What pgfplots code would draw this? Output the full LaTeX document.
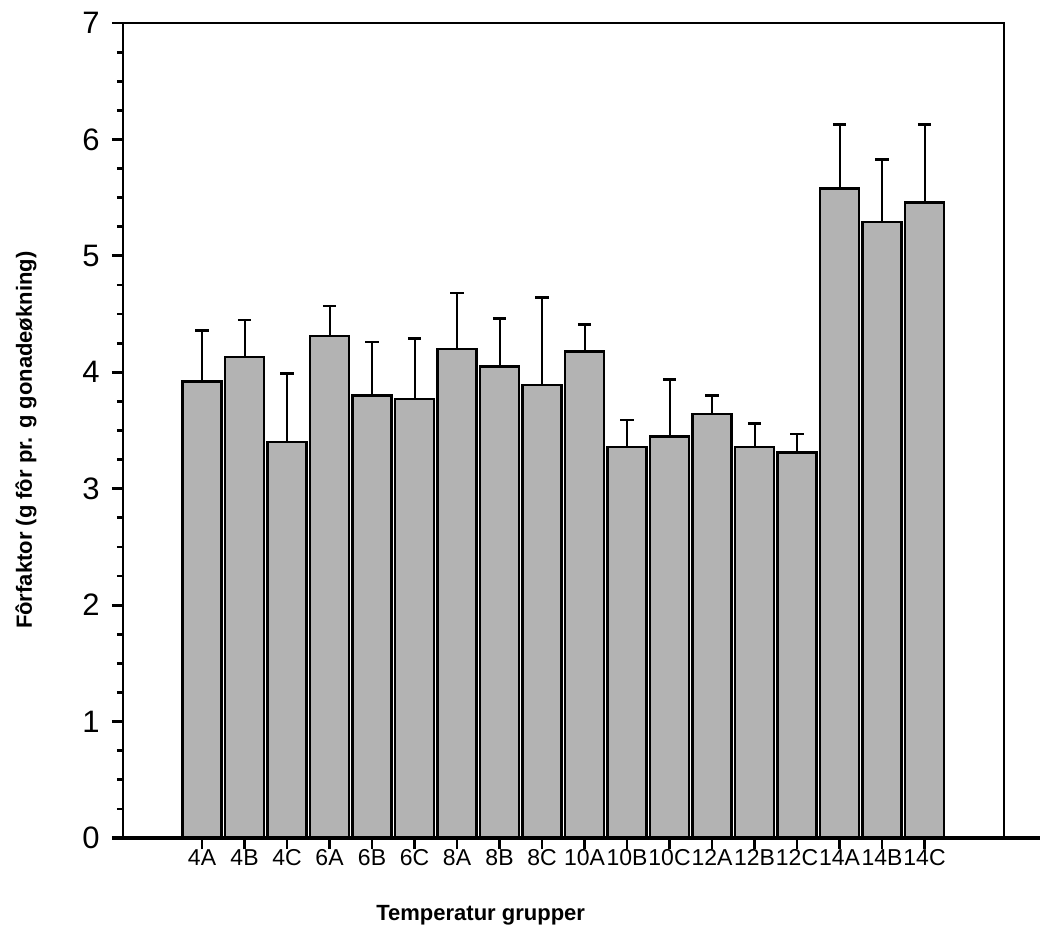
\documentclass[border=0pt]{standalone}
\usepackage{fontspec}
\setmainfont{Liberation Sans}
\usepackage{pgfplots}
\pgfplotsset{compat=1.18}
\definecolor{bargray}{RGB}{179,179,179}

\pgfplotstableread{
x y e
0 3.92 0.44
1 4.13 0.32
2 3.40 0.59
3 4.31 0.26
4 3.80 0.46
5 3.77 0.52
6 4.20 0.48
7 4.05 0.41
8 3.89 0.75
9 4.18 0.23
10 3.36 0.23
11 3.45 0.49
12 3.64 0.16
13 3.36 0.20
14 3.31 0.16
15 5.58 0.55
16 5.29 0.54
17 5.46 0.67
}\fortable

\begin{document}
\begin{tikzpicture}
\useasboundingbox (-61.5pt,-50pt) rectangle (462.5pt,419pt);
\begin{axis}[
  at={(0,0)}, anchor=south west,
  scale only axis,
  width=440.5pt, height=407.5pt,
  xmin=-1.86, xmax=18.87,
  ymin=0, ymax=7,
  clip=false,
  axis line style={line width=1.4pt},
  ytick={0,...,7},
  minor y tick num=3,
  xtick={0,...,17},
  xticklabels={4A,4B,4C,6A,6B,6C,8A,8B,8C,10A,10B,10C,12A,12B,12C,14A,14B,14C},
  xtick pos=lower, ytick pos=left,
  tick align=outside,
  major tick length=5.5pt,
  minor tick length=3pt,
  every tick/.style={black, line width=1.4pt},
  /pgf/number format/assume math mode=true,
  yticklabel style={font=\fontsize{15.5}{18}\selectfont, inner sep=1pt, xshift=-5pt},
  xticklabel style={font=\fontsize{11.5}{13}\selectfont, inner sep=0pt, yshift=0pt},
  xlabel={Temperatur grupper},
  ylabel={Fôrfaktor (g fôr pr. g gonadeøkning)},
  xlabel style={at={(axis description cs:0.406,-0.095)}, anchor=center, font=\fontsize{11}{13}\selectfont\bfseries},
  ylabel style={at={(axis description cs:-0.110,0.488)}, anchor=center, font=\fontsize{11}{13}\selectfont\bfseries},
]
\addplot[ybar, bar width=0.92, fill=bargray, draw=black, line width=1.2pt,
  error bars/.cd, y dir=plus, y explicit,
  error bar style={line width=1pt, black},
  error mark options={rotate=90, mark size=3.3pt, line width=1.3pt, black}]
  table[x=x, y=y, y error=e] {\fortable};
\draw[line width=1.8pt] (rel axis cs:-0.0125,0) -- (rel axis cs:1.041,0);
\end{axis}
\end{tikzpicture}
\end{document}
